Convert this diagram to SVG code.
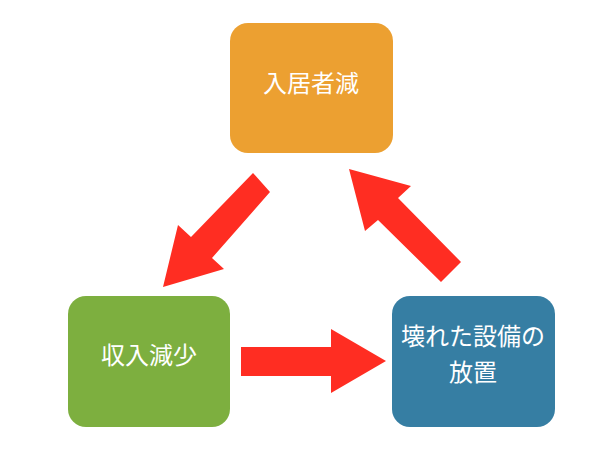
<svg xmlns="http://www.w3.org/2000/svg" width="613" height="460" viewBox="0 0 613 460">
<style>
.lbl{font-family:"Noto Sans CJK JP","Noto Sans CJK SC",sans-serif;font-size:24px;fill:#ffffff;text-anchor:middle}
.arr{fill:#ff2d22}
</style>
<rect width="613" height="460" fill="#ffffff"/>
<g id="connectors">
<polygon class="arr" points="253,173 270,192 212,258 224,269 163,287 178,225 191,237"/>
<polygon class="arr" points="461,262 441,282 378,220 365,231 349,169 411,186 398,198"/>
<polygon class="arr" points="241,347 331,347 331,329 386,361 331,393 331,376 241,376"/>
</g>
<g id="node-top">
<rect x="230" y="23" width="163" height="130" rx="18" fill="#eca031"/>
<text class="lbl" x="311" y="92">入居者減</text>
</g>
<g id="node-left">
<rect x="68" y="296" width="162" height="131" rx="18" fill="#7daf3f"/>
<text class="lbl" x="149" y="364">収入減少</text>
</g>
<g id="node-right">
<rect x="392" y="296" width="163" height="131" rx="18" fill="#367ea3"/>
<text class="lbl" x="473" y="345">壊れた設備の</text>
<text class="lbl" x="473" y="381">放置</text>
</g>
</svg>
